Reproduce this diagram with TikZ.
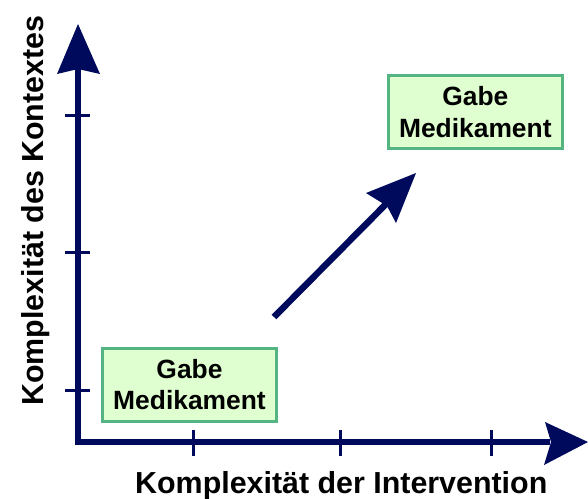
\documentclass[tikz,border=0pt]{standalone}
\usepackage{fontspec}
\setmainfont{Liberation Sans}
\definecolor{navy}{RGB}{0,10,92}
\definecolor{boxfill}{RGB}{224,255,208}
\definecolor{boxline}{RGB}{84,180,130}
\begin{document}
\begin{tikzpicture}[x=1pt,y=-1pt,
  medbox/.style={draw=boxline,line width=3pt,fill=boxfill,minimum width=174pt,minimum height=73pt,
    align=center,inner sep=0pt,font=\fontsize{26.4}{31.5}\selectfont\bfseries},
  axisline/.style={navy,line width=6.5pt},
  tickline/.style={navy,line width=3pt},
  lbl/.style={font=\fontsize{30.4}{34}\selectfont\bfseries,inner sep=0pt}]
\useasboundingbox (0,0) rectangle (588,498);
% axes
\coordinate (O) at (78,442);
\coordinate (Ytip) at (78,24);
\coordinate (Xtip) at (588,442);
\draw[axisline] (78,445) -- (78,66);
\draw[axisline] (75,442) -- (550,442);
\fill[navy] (Ytip) -- (100,74) -- (78,69) -- (57,74) -- cycle;
\fill[navy] (Xtip) -- (544,465) -- (551,442) -- (545,422) -- cycle;
% ticks
\foreach \y in {115,252,390} \draw[tickline] (65,\y) -- (90,\y);
\foreach \x in {193,340,491} \draw[tickline] (\x,430) -- (\x,456);
% labels
\node[lbl,anchor=base west] (xl) at (135,493) {Komplexität der Intervention};
\node[lbl,anchor=base west,rotate=90] (yl) at (43,406) {Komplexität des Kontextes};
% boxes
\node[medbox] (b1) at (189.5,384.7) {Gabe\\Medikament};
\node[medbox] (b2) at (475.3,112) {Gabe\\Medikament};
% diagonal arrow
\coordinate (a1) at (274,317);
\coordinate (a2) at (416,173);
\draw[navy,line width=6.5pt] (a1) -- (389,201);
\fill[navy] (a2) -- (366,193) -- (387,206) -- (396,223) -- cycle;
\end{tikzpicture}
\end{document}
